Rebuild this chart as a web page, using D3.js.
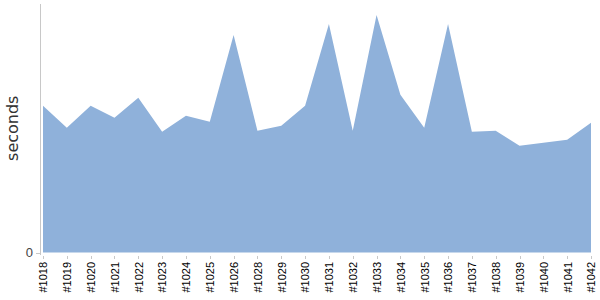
<!DOCTYPE html>
<html>
<head>
<meta charset="utf-8">
<script src="https://cdn.jsdelivr.net/npm/d3@7.9.0/dist/d3.min.js"></script>
<style>
  body { margin: 0; background: #fff; }
  svg { display: block; font-family: "DejaVu Sans", Verdana, sans-serif; }
  .axis path, .axis line { stroke: #c8c8c8; shape-rendering: crispEdges; }
</style>
</head>
<body>
<svg id="chart" width="600" height="300"></svg>
<script>
// build ids along the x axis
const builds = ['#1018', '#1019', '#1020', '#1021', '#1022', '#1023', '#1024', '#1025',
  '#1026', '#1028', '#1029', '#1030', '#1031', '#1032', '#1033', '#1034', '#1035',
  '#1036', '#1037', '#1038', '#1039', '#1040', '#1041', '#1042'];

// duration per build (seconds)
const seconds = [147, 125, 147, 135, 155, 121, 137, 131, 218, 122, 127, 147, 229, 122,
  238, 158, 125, 229, 121, 122, 107, 110, 113, 130];

const yTicks = [0];

const width = 600, height = 300;
const margin = { top: 4, right: 9, bottom: 47, left: 43 };

const svg = d3.select('#chart');

const x = d3.scalePoint()
  .domain(builds)
  .range([margin.left, width - margin.right]);

const y = d3.scaleLinear()
  .domain([0, 249])
  .range([height - margin.bottom - 0.5, margin.top]);

const area = d3.area()
  .x((d, i) => x(builds[i]))
  .y0(y(0))
  .y1((d) => y(d));

svg.append('path')
  .datum(seconds)
  .attr('fill', '#8fb1da')
  .attr('d', area);

// x axis
const xAxis = svg.append('g')
  .attr('class', 'axis')
  .attr('transform', `translate(0,${height - margin.bottom + 3})`)
  .call(d3.axisBottom(x).tickSize(3).tickSizeOuter(0));
xAxis.select('.domain').remove();
xAxis.selectAll('text')
  .attr('transform', 'rotate(-90)')
  .attr('text-anchor', 'end')
  .attr('x', -6)
  .attr('y', 0)
  .attr('dy', '0.35em')
  .attr('fill', '#000')
  .style('font-size', '11px');

// y axis
const yAxis = svg.append('g')
  .attr('class', 'axis')
  .attr('transform', `translate(${margin.left - 3},0)`)
  .call(d3.axisLeft(y).tickValues(yTicks).tickSize(4).tickSizeOuter(0));
yAxis.select('.domain').attr('d', `M0,${margin.top}V${y(0) + 2}`);
yAxis.selectAll('text')
  .attr('fill', '#444')
  .attr('x', -7)
  .style('font-size', '13px');

svg.append('text')
  .attr('transform', `translate(18,${(margin.top + y(0)) / 2}) rotate(-90)`)
  .attr('text-anchor', 'middle')
  .attr('fill', '#333')
  .style('font-size', '16px')
  .text('seconds');
</script>
</body>
</html>
